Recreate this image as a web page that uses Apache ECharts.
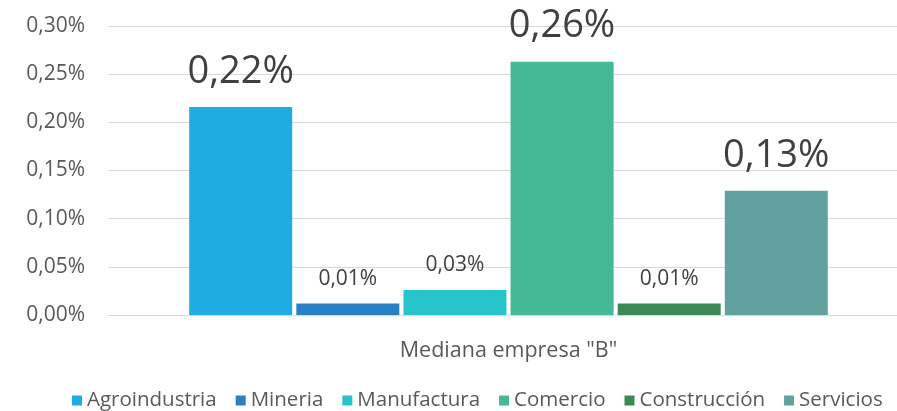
<!DOCTYPE html>
<html>
<head>
<meta charset="utf-8">
<script src="https://cdn.jsdelivr.net/npm/echarts@6/dist/echarts.min.js"></script>
<style>
html,body{margin:0;padding:0;background:#fff;}
#chart{width:897px;height:411px;}
</style>
</head>
<body>
<div id="chart"></div>
<script>
const categories = ['Mediana empresa "B"'];
const seriesNames = ['Agroindustria', 'Mineria', 'Manufactura', 'Comercio', 'Construcción', 'Servicios'];
const seriesValues = [0.216, 0.012, 0.026, 0.263, 0.012, 0.129];
const yTicks = [0, 0.05, 0.10, 0.15, 0.20, 0.25, 0.30];
const colors = ['#20ABE2', '#2A80C5', '#28C4CC', '#43B996', '#3B8A55', '#62A29E'];

const FONT = '"Open Sans", sans-serif';
function fmt(v) { return v.toFixed(2).replace('.', ',') + '%'; }

const chart = echarts.init(document.getElementById('chart'), null, {renderer: 'canvas'});
const series = seriesNames.map((name, i) => {
  const v = seriesValues[i];
  const big = v >= 0.1;
  return {
    name: name,
    type: 'bar',
    barWidth: 103,
    barGap: '4%',
    itemStyle: {color: colors[i]},
    label: {
      show: true,
      position: 'top',
      distance: big ? 16 : 14,
      formatter: p => fmt(p.value),
      fontFamily: FONT,
      fontSize: big ? 38 : 21,
      color: '#404040'
    },
    data: categories.map(() => v)
  };
});

chart.setOption({
  animation: false,
  backgroundColor: '#ffffff',
  textStyle: {fontFamily: FONT},
  grid: {left: 108, top: 26, width: 801, height: 289, containLabel: false, outerBoundsMode: 'none'},
  legend: {
    data: seriesNames,
    left: 67,
    top: 385,
    icon: 'rect',
    itemWidth: 10,
    itemHeight: 10,
    itemGap: 19,
    textStyle: {fontFamily: FONT, fontSize: 20.5, color: '#595959'}
  },
  xAxis: {
    type: 'category',
    data: categories,
    axisLine: {show: true, lineStyle: {color: '#D9D9D9', width: 1}},
    axisTick: {show: false},
    axisLabel: {fontFamily: FONT, fontSize: 21.5, color: '#595959', margin: 25}
  },
  yAxis: {
    type: 'value',
    min: yTicks[0],
    max: yTicks[yTicks.length - 1],
    interval: yTicks[1] - yTicks[0],
    axisLine: {show: false},
    axisTick: {show: false},
    splitLine: {lineStyle: {color: '#D9D9D9', width: 1}},
    axisLabel: {fontFamily: FONT, fontSize: 21, color: '#595959', margin: 23, formatter: v => fmt(v)}
  },
  series: series
});
</script>
</body>
</html>
